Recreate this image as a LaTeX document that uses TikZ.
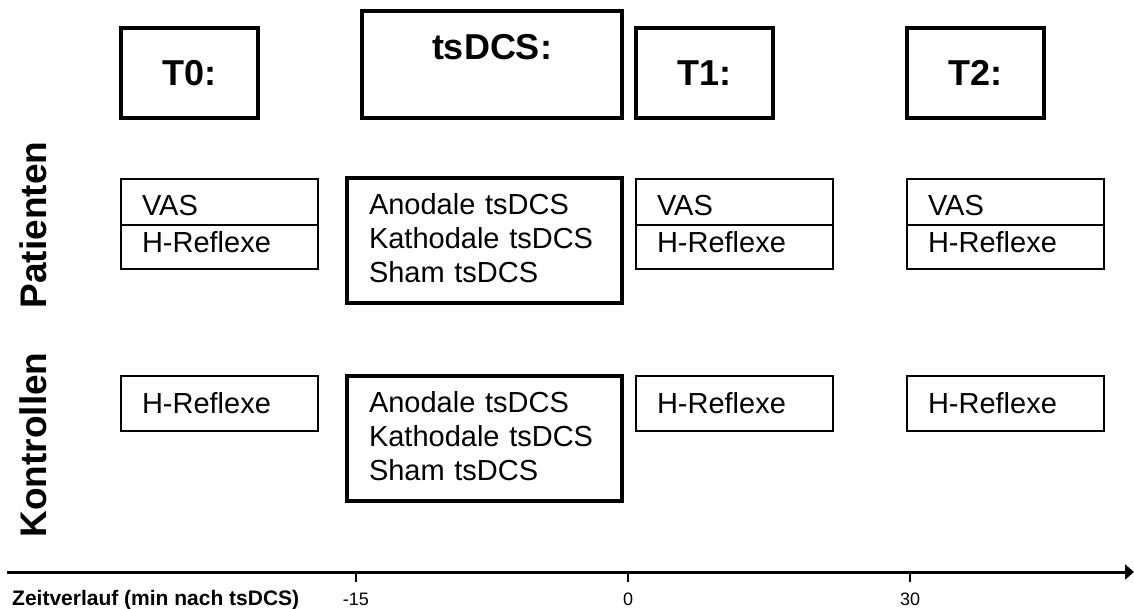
\documentclass[tikz,border=0pt]{standalone}
\usepackage{fontspec}
\setmainfont{Liberation Sans}
\usetikzlibrary{arrows.meta}

\begin{document}
\begin{tikzpicture}[x=1pt,y=-1pt,
  phase/.style={draw,line width=4pt,outer sep=0pt,anchor=north west,inner sep=0pt,
    minimum width=137pt,minimum height=90pt,font=\fontsize{36}{40}\selectfont\bfseries},
  cell/.style={draw,line width=2pt,outer sep=0pt,anchor=north west,inner xsep=21pt,inner ysep=0pt,
    text width=155pt,align=left,font=\fontsize{29}{34}\selectfont},
  stim/.style={draw,line width=4pt,outer sep=0pt,anchor=north west,inner xsep=22pt,inner ysep=0pt,
    text width=231pt,align=left,text height=36pt,text depth=89pt,font=\fontsize{29}{34}\selectfont},
  group/.style={rotate=90,font=\fontsize{37}{40}\selectfont\bfseries},
  ticklabel/.style={anchor=base,inner sep=0pt,font=\fontsize{18}{20}\selectfont}]
\useasboundingbox (0,0) rectangle (1134,608);

% Zeitpunkte
\node[phase] (t0) at (121,28) {T0:};
\node[phase,minimum width=260pt,minimum height=0pt,text height=48pt,text depth=59pt] (tstim) at (362,11) {tsDCS:};
\node[phase] (t1) at (636,28) {T1:};
\node[phase] (t2) at (907,28) {T2:};

% Patienten
\node[group] (pat) at (33,225) {Patienten};
\node[cell,text height=36pt,text depth=10pt] (pvas0) at (121,179) {VAS};
\node[cell,text height=27pt,text depth=17pt] (phr0) at (pvas0.south west) {H-Reflexe};
\node[stim] (pstim) at (347,178) {Anodale tsDCS\\Kathodale tsDCS\\Sham tsDCS};
\node[cell,text height=36pt,text depth=10pt] (pvas1) at (636,179) {VAS};
\node[cell,text height=27pt,text depth=17pt] (phr1) at (pvas1.south west) {H-Reflexe};
\node[cell,text height=36pt,text depth=10pt] (pvas2) at (907,179) {VAS};
\node[cell,text height=27pt,text depth=17pt] (phr2) at (pvas2.south west) {H-Reflexe};

% Kontrollen
\node[group] (kon) at (33,445) {Kontrollen};
\node[cell,text height=37pt,text depth=18pt] (khr0) at (121,376) {H-Reflexe};
\node[stim] (kstim) at (347,376) {Anodale tsDCS\\Kathodale tsDCS\\Sham tsDCS};
\node[cell,text height=37pt,text depth=18pt] (khr1) at (636,376) {H-Reflexe};
\node[cell,text height=37pt,text depth=18pt] (khr2) at (907,376) {H-Reflexe};

% Zeitachse
\coordinate (axstart) at (7,572);
\coordinate (axend) at (1134,572);
\draw[line width=3pt,-{Triangle[length=9pt,width=15pt]}] (axstart) -- (axend);
\node[anchor=base west,inner sep=0pt,font=\fontsize{21}{24}\selectfont\bfseries] (xlabel) at (12,605) {Zeitverlauf (min nach tsDCS)};
\node[ticklabel] (m15) at (356,605) {-15};
\node[ticklabel] (z0) at (628,605) {0};
\node[ticklabel] (p30) at (910,605) {30};
\draw[line width=2pt] (m15 |- axstart) -- ++(0,10);
\draw[line width=2pt] (z0 |- axstart) -- ++(0,10);
\draw[line width=2pt] (p30 |- axstart) -- ++(0,10);
\end{tikzpicture}
\end{document}
